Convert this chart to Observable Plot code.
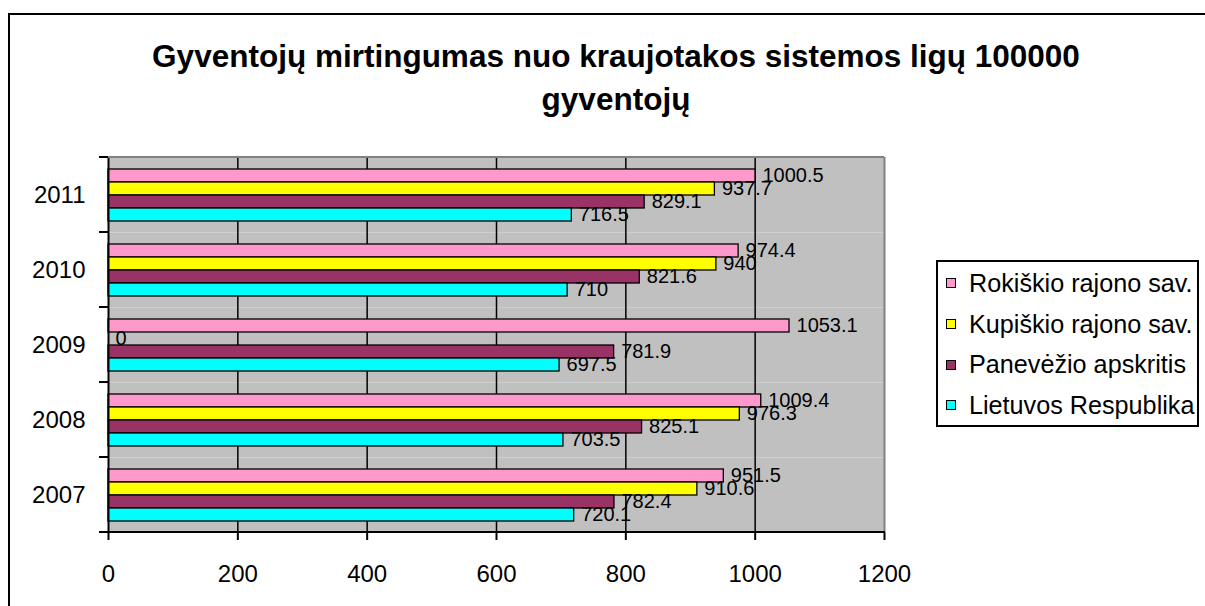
<!DOCTYPE html>
<html>
<head>
<meta charset="utf-8">
<script src="https://cdn.jsdelivr.net/npm/d3@7"></script>
<script src="https://cdn.jsdelivr.net/npm/@observablehq/plot@0.6"></script>
<style>
  html, body { margin: 0; padding: 0; background: #fff; }
  body { font-family: "Liberation Sans", Arial, sans-serif; color: #000; }
  #wrap { position: relative; width: 1205px; height: 606px; overflow: hidden; background: #fff; }
  #outer { position: absolute; left: 8px; top: 13px; width: 1400px; height: 800px; border: 2px solid #000; box-sizing: border-box; }
  #title { position: absolute; left: 0; top: 35px; width: 1232px; text-align: center; font-weight: bold; font-size: 31.5px; line-height: 43px; }
  #chart { position: absolute; left: 0; top: 0; }
  #legend { position: absolute; left: 936px; top: 260px; width: 263px; height: 167px; border: 2px solid #000; box-sizing: border-box; background: #fff; padding-top: 1px; }
  .row { height: 40.7px; line-height: 40.7px; font-size: 25.2px; white-space: nowrap; display: flex; align-items: center; }
  .sw { width: 10px; height: 10px; border: 1.5px solid #000; box-sizing: border-box; margin-left: 8px; margin-right: 13px; flex: none; }
</style>
</head>
<body>
<div id="wrap">
  <div id="outer"></div>
  <div id="chart"></div>
  <div id="title">Gyventojų mirtingumas nuo kraujotakos sistemos ligų 100000<br>gyventojų</div>
  <div id="legend"></div>
</div>
<script>
// ---- data ----
const years = ["2007", "2008", "2009", "2010", "2011"];
const seriesNames = ["Rokiškio rajono sav.", "Kupiškio rajono sav.", "Panevėžio apskritis", "Lietuvos Respublika"];
const rokiskis = [951.5, 1009.4, 1053.1, 974.4, 1000.5];
const kupiskis = [910.6, 976.3, 0, 940, 937.7];
const panevezys = [782.4, 825.1, 781.9, 821.6, 829.1];
const lietuva = [720.1, 703.5, 697.5, 710, 716.5];
const seriesColors = ["#FF99CC", "#FFFF00", "#993366", "#00FFFF"];
const xTicks = [0, 200, 400, 600, 800, 1000, 1200];

const seriesValues = [rokiskis, kupiskis, panevezys, lietuva];
const table = [];
seriesNames.forEach((s, j) => {
  years.forEach((y, i) => table.push({ year: y, series: s, value: seriesValues[j][i] }));
});

const chart = Plot.plot({
  width: 1205,
  height: 606,
  marginTop: 157,
  marginBottom: 74,
  marginLeft: 108,
  marginRight: 321,
  style: { fontFamily: "'Liberation Sans', Arial, sans-serif", background: "transparent", overflow: "visible", color: "#000" },
  x: { domain: [0, 1200] },
  y: { domain: seriesNames, paddingInner: 0, paddingOuter: 0.68, axis: null },
  fy: { domain: [...years].reverse(), padding: 0 },
  color: { domain: seriesNames, range: seriesColors },
  marks: [
    Plot.frame({ fill: "#C0C0C0", stroke: "none" }),
    Plot.ruleX(xTicks.filter(v => v > 0 && v < 1200), { stroke: "#000", strokeWidth: 1.5 }),
    Plot.ruleX([1200], { stroke: "#808080", strokeWidth: 2 }),
    Plot.barX(table, { y: "series", fy: "year", x: "value", fill: "series", stroke: "#000", strokeWidth: 1.3 }),
    Plot.ruleX([0], { stroke: "#000", strokeWidth: 2 }),
    Plot.text(table, { y: "series", fy: "year", x: "value", text: d => String(d.value), textAnchor: "start", dx: 7, fontSize: 20, fill: "#000" }),
    Plot.axisFy({ anchor: "left", tickSize: 0, tickPadding: 23, fontSize: 24, label: null }),
    Plot.axisX(xTicks, { anchor: "bottom", tickSize: 8, tickPadding: 24, fontSize: 24, label: null, strokeWidth: 2, tickFormat: d => String(d) })
  ]
});
document.getElementById("chart").appendChild(chart);

// boundary ticks + top/bottom plot-area borders from the library's scales
const fyScale = chart.scale("fy");
const xScale = chart.scale("x");
const xLeft = xScale.apply(0), xRight = xScale.apply(1200);
const bounds = years.map(y => fyScale.apply(y)).concat([fyScale.apply(years[0]) + fyScale.bandwidth]);
const svgSel = d3.select(chart);
const extra = svgSel.append("g");
const plotTop = d3.min(bounds), plotBottom = d3.max(bounds);
extra.append("line").attr("x1", xLeft).attr("x2", xRight).attr("y1", plotTop).attr("y2", plotTop).attr("stroke", "#808080").attr("stroke-width", 2);
extra.append("line").attr("x1", xLeft - 1).attr("x2", xRight + 1).attr("y1", plotBottom).attr("y2", plotBottom).attr("stroke", "#000").attr("stroke-width", 2);
bounds.forEach(b => {
  extra.append("line").attr("x1", xLeft - 9).attr("x2", xLeft).attr("y1", b).attr("y2", b).attr("stroke", "#000").attr("stroke-width", 2);
});

// legend
const legend = document.getElementById("legend");
seriesNames.forEach((s, j) => {
  const row = document.createElement("div");
  row.className = "row";
  const sw = document.createElement("span");
  sw.className = "sw";
  sw.style.background = seriesColors[j];
  const t = document.createElement("span");
  t.textContent = s;
  row.appendChild(sw);
  row.appendChild(t);
  legend.appendChild(row);
});
</script>
</body>
</html>
